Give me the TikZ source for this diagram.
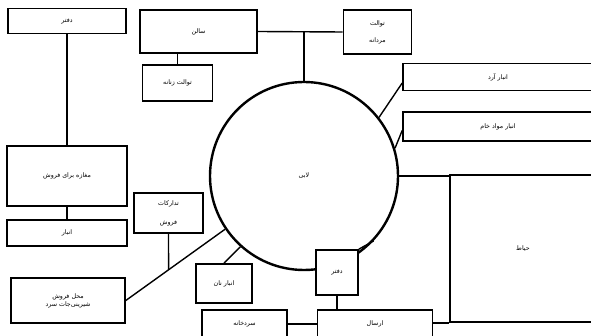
\documentclass[tikz,border=0pt]{standalone}
\usepackage{fontspec}
\newfontfamily\arabicfont[Script=Arabic]{DejaVu Sans}
\TeXXeTstate=1
\usepackage{tikz}
\usetikzlibrary{positioning, calc}
\newcommand{\fa}[1]{\beginR #1\endR}
\tikzstyle{room} = [rectangle, draw=black, line width=1.6pt, fill=white, inner sep=0pt, align=center, font=\arabicfont\fontsize{6.3}{8}\selectfont]
\tikzstyle{link} = [line width=1.4pt]

\begin{document}
\begin{tikzpicture}[x=1pt, y=-1pt]
  \useasboundingbox (0,0) rectangle (591,336);

  % left column
  \node[room, minimum width=118pt, minimum height=25pt] (office) at (67,21) {\fa{دفتر}};
  \node[room, minimum width=120pt, minimum height=60pt] (shop) at (67,176) {\fa{مغازه برای فروش}};
  \node[room, minimum width=120pt, minimum height=26pt] (store) at (67,233) {\fa{انبار}};
  \node[room, minimum width=114pt, minimum height=45pt] (sweets) at (68,300.5) {\fa{محل فروش}\\\fa{شیرینی‌جات سرد}};

  % hall and the rooms round it
  \node[circle, draw=black, line width=2.4pt, minimum size=188pt, inner sep=0pt, font=\arabicfont\fontsize{6.3}{8}\selectfont] (hall) at (304,176) {\fa{لابی}};
  \node[room, minimum width=117pt, minimum height=43pt] (salon) at (198.5,31.5) {\fa{سالن}};
  \node[room, minimum width=70pt, minimum height=36pt] (wcwomen) at (177.5,83) {\fa{توالت زنانه}};
  \node[room, minimum width=68pt, minimum height=44pt] (wcmen) at (377.5,32) {\fa{توالت}\\[9pt]\fa{مردانه}};
  \node[room, minimum width=190pt, minimum height=27pt] (flour) at (498,77) {\fa{انبار آرد}};
  \node[room, minimum width=190pt, minimum height=29pt] (raw) at (498,126.5) {\fa{انبار مواد خام}};
  \node[room, minimum width=146pt, minimum height=147pt] (yard) at (523,248.5) {\fa{حیاط}};
  \node[room, minimum width=69pt, minimum height=40pt] (supply) at (168.5,213) {\fa{تدارکات}\\[11pt]\fa{فروش}};
  \node[room, minimum width=56pt, minimum height=39pt] (bread) at (224,283.5) {\fa{انبار نان}};
  \node[room, minimum width=42pt, minimum height=45pt] (office2) at (337,272.5) {\fa{دفتر}};
  \node[room, minimum width=115pt, minimum height=28pt] (dispatch) at (375,324) {\fa{ارسال}};
  \node[room, minimum width=85pt, minimum height=28pt] (cold) at (244.5,324) {\fa{سردخانه}};

  \coordinate (tj) at ($(hall.214)!0.569!(sweets.east)$);

  \draw[link] (office.south) -- (shop.north);
  \draw[link] (shop.south) -- (store.north);
  \draw[link] (salon.east) -- (wcmen.west);
  \draw[link] (hall.north) -- (hall.north |- salon.east);
  \draw[link] (wcwomen.north) -- (wcwomen.north |- salon.south);
  \draw[link] (hall.38) -- ([yshift=-6pt]flour.west);
  \draw[link] (hall.17) -- ([yshift=-4pt]raw.west);
  \draw[link] (hall.east) -- (hall.east -| yard.west);
  \draw[link] (yard.south west) -- (yard.south west -| dispatch.east);
  \draw[link] (office2.north east) -- (hall.-43);
  \draw[link] (office2.south) -- (office2.south |- dispatch.north);
  \draw[link] (cold.east) -- (dispatch.west);
  \draw[link] (bread.north) -- (hall.228);
  \draw[link] (hall.214) -- (sweets.east);
  \draw[link] (supply.south) -- (tj);
\end{tikzpicture}
\end{document}
